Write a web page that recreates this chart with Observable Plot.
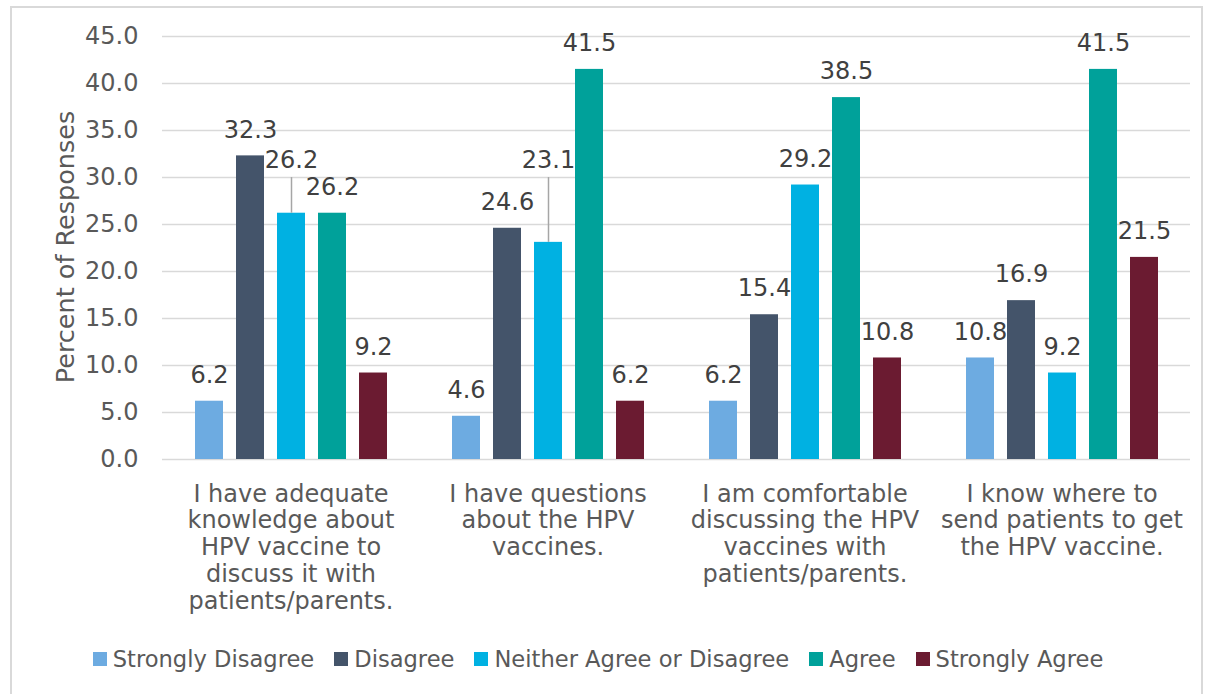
<!DOCTYPE html>
<html><head><meta charset="utf-8">
<script src="https://cdn.jsdelivr.net/npm/d3@7"></script>
<script src="https://cdn.jsdelivr.net/npm/@observablehq/plot@0.6"></script>
<style>
body{margin:0;background:#fff;font-family:"DejaVu Sans",Verdana,sans-serif;}
#frame{position:absolute;left:10px;top:6px;width:1193px;height:720px;border:2px solid #d9d9d9;box-sizing:border-box;}
#chart{position:absolute;left:0;top:0;}
#ytitle{position:absolute;left:65px;top:247px;transform:translate(-50%,-50%) rotate(-90deg);font-size:25.5px;color:#595959;white-space:nowrap;}
#legend{position:absolute;left:0;width:1196px;top:646px;display:flex;justify-content:center;gap:20px;font-size:22.6px;color:#595959;white-space:nowrap;}
.item{display:flex;align-items:center;gap:6px}
.sw{width:14px;height:14px;display:inline-block}
</style>
</head><body>
<div id="frame"></div>
<div id="chart"></div>
<div id="ytitle"></div>
<div id="legend"></div>
<script>
const questions = [
  "I have adequate\nknowledge about\nHPV vaccine to\ndiscuss it with\npatients/parents.",
  "I have questions\nabout the HPV\nvaccines.",
  "I am comfortable\ndiscussing the HPV\nvaccines with\npatients/parents.",
  "I know where to\nsend patients to get\nthe HPV vaccine."
];
const series = ["Strongly Disagree", "Disagree", "Neither Agree or Disagree", "Agree", "Strongly Agree"];
const stronglyDisagree = [6.2, 4.6, 6.2, 10.8];
const disagree = [32.3, 24.6, 15.4, 16.9];
const neither = [26.2, 23.1, 29.2, 9.2];
const agree = [26.2, 41.5, 38.5, 41.5];
const stronglyAgree = [9.2, 6.2, 10.8, 21.5];
const yTicks = [0, 5, 10, 15, 20, 25, 30, 35, 40, 45];
const colors = ["#6DABE1", "#44546A", "#00B1E2", "#00A19A", "#6B1B31"];
const yTitle = "Percent of Responses";

const seriesValues = [stronglyDisagree, disagree, neither, agree, stronglyAgree];
const rows = [];
questions.forEach((q, i) => {
  series.forEach((s, j) => rows.push({question: q, series: s, value: seriesValues[j][i]}));
});

// labels that Excel moved up and tied to their bars with a leader line
const liftedLabelY = 31.8;
const isLifted = d => d.series === series[2] && (d.question === questions[0] || d.question === questions[1]);
const lifted = rows.filter(isLifted);
const normal = rows.filter(d => !isLifted(d));

const chart = Plot.plot({
  width: 1211,
  height: 640,
  marginLeft: 162,
  marginRight: 21,
  marginTop: 36,
  marginBottom: 181,
  style: {fontFamily: "DejaVu Sans", fontSize: "24px", color: "#595959", background: "transparent"},
  fx: {domain: questions, padding: 0, label: null},
  x: {domain: series, paddingInner: 0.32, paddingOuter: 0.78, axis: null},
  y: {domain: [0, 45], axis: null},
  color: {domain: series, range: colors},
  marks: [
    Plot.gridY(yTicks, {stroke: "#d9d9d9", strokeOpacity: 1, strokeWidth: 1.5}),
    Plot.axisY(yTicks, {tickFormat: d => d.toFixed(1), tickSize: 0, tickPadding: 24, label: null, fill: "#595959"}),
    Plot.axisFx({anchor: "bottom", tickSize: 0, tickPadding: 23, lineHeight: 1.12, label: null, fill: "#595959"}),
    Plot.barY(rows, {fx: "question", x: "series", y: "value", fill: "series"}),
    Plot.ruleX(lifted, {fx: "question", x: "series", y1: () => liftedLabelY, y2: "value", stroke: "#a6a6a6", strokeWidth: 1.5, insetTop: 17}),
    Plot.text(normal, {fx: "question", x: "series", y: "value", dy: -26,
      text: d => d.value.toFixed(1), fill: "#404040"}),
    Plot.text(lifted, {fx: "question", x: "series", y: () => liftedLabelY,
      text: d => d.value.toFixed(1), fill: "#404040"}),
  ]
});
document.getElementById("chart").appendChild(chart);
document.getElementById("ytitle").textContent = yTitle;

const legend = document.getElementById("legend");
series.forEach((s, i) => {
  const item = document.createElement("span");
  item.className = "item";
  const sw = document.createElement("span");
  sw.className = "sw";
  sw.style.background = colors[i];
  const label = document.createElement("span");
  label.textContent = s;
  item.appendChild(sw);
  item.appendChild(label);
  legend.appendChild(item);
});
</script>
</body></html>
